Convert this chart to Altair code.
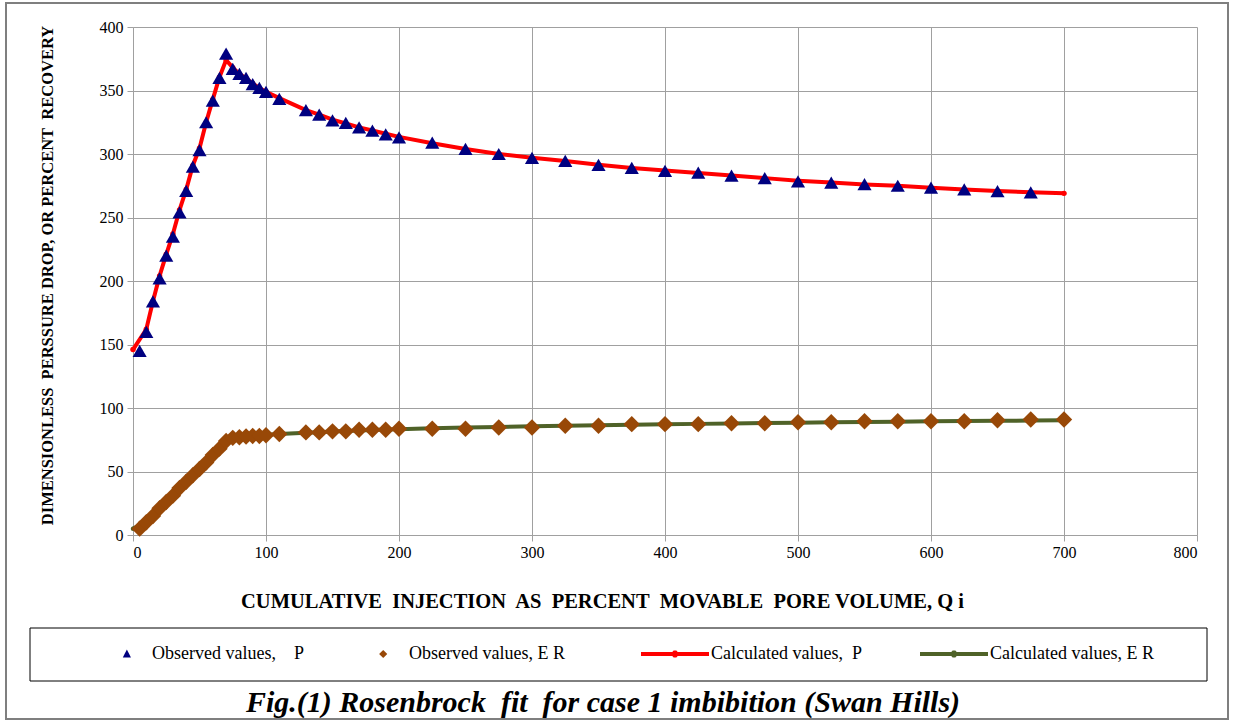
import altair as alt
import pandas as pd

# ---------------- data ----------------
obs_p_x = [5, 10, 15, 20, 25, 30, 35, 40, 45, 50, 55, 60, 65, 70, 75, 80, 85, 90, 95, 100,
           110, 130, 140, 150, 160, 170, 180, 190, 200,
           225, 250, 275, 300, 325, 350, 375, 400, 425, 450, 475, 500, 525, 550, 575, 600, 625, 650, 675]
obs_p_y = [145, 160, 184, 202, 220, 235, 254, 271, 290, 303,
           325, 342, 360, 379, 367, 363, 360, 355, 352, 349,
           343.5, 334.5, 331, 326.5, 324.5, 321, 318.5, 315.5, 313,
           309, 304, 300, 297, 294.5, 291.5, 289, 286.7, 285.3, 283, 281, 278.5, 277.5, 276.3, 275,
           273.6, 272.2, 270.8, 269.7]

obs_er_x = [5, 10, 15, 20, 25, 30, 35, 40, 45, 50, 55, 60, 65, 70, 75, 80, 85, 90, 95, 100,
            110, 130, 140, 150, 160, 170, 180, 190, 200,
            225, 250, 275, 300, 325, 350, 375, 400, 425, 450, 475, 500, 525, 550, 575, 600, 625, 650, 675, 700]
obs_er_y = [5, 10, 15, 21, 26, 31, 37, 42, 47, 52, 57, 63, 68, 74, 76.5, 77, 77.5, 78, 78, 78.5,
            79.5, 80.8, 80.8, 81.6, 81.6, 82.9, 82.9, 82.9, 83.7,
            83.7, 83.7, 84.7, 84.7, 86, 86, 87.3, 87.3, 87.3, 88, 88, 88.8, 88.8, 89.6, 89.6, 89.6, 89.6,
            90.3, 91, 91]

calc_x = [0, 10, 15, 20, 25, 30, 35, 40, 45, 50, 55, 60, 65, 70, 75, 80, 85, 90, 95, 100,
          110, 130, 140, 150, 160, 170, 180, 190, 200,
          225, 250, 275, 300, 325, 350, 375, 400, 425, 450, 475, 500, 525, 550, 575, 600, 625, 650, 675, 700]
calc_p_y = [146, 162, 184, 204, 221, 237, 256, 272, 291, 304.5,
            325, 343, 360.5, 374, 368, 363, 359.5, 355.5, 352, 349,
            344, 334.5, 331, 327, 324, 321, 318.5, 316, 313.5,
            308.5, 304, 300, 297, 294.5, 291.5, 289, 287, 285, 283, 281, 279, 277.5, 276, 275, 273.5,
            272, 270.8, 269.8, 269]
calc_er_y = [5, 10, 15.5, 21, 26, 31.5, 37, 42, 47, 52.5,
             58, 63.5, 69, 76, 77, 77.5, 78, 78.3, 78.6, 79,
             79.6, 80.5, 81, 81.4, 81.8, 82.2, 82.6, 83, 83.3,
             84, 84.6, 85.1, 85.6, 86, 86.4, 86.8, 87.2, 87.5, 87.8, 88.1, 88.4, 88.7, 89, 89.2, 89.5,
             89.7, 89.9, 90.1, 90.3]

NB = "\u00a0"
ZW = "\u200b"
series_names = ["Observed values," + NB * 4 + "P",
                "Observed values, E R" + NB * 9 + ZW,
                "Calculated values," + NB * 2 + "P" + NB * 5 + ZW,
                "Calculated values, E R"]
series_colors = ["#000080", "#984807", "#FF0000", "#4F6228"]

x_ticks = [0, 100, 200, 300, 400, 500, 600, 700, 800]
y_ticks = [0, 50, 100, 150, 200, 250, 300, 350, 400]

x_title = "CUMULATIVE" + NB + " INJECTION" + NB + " AS" + NB + " PERCENT" + NB + " MOVABLE" + NB + " PORE VOLUME, Q i"
y_title = "DIMENSIONLESS" + NB + " PERSSURE DROP, OR PERCENT" + NB + " RECOVERY"
caption = "Fig.(1) Rosenbrock" + NB + " fit" + NB + " for case 1 imbibition (Swan Hills)"

SERIF = "Times New Roman, Liberation Serif, serif"

# ---------------- chart ----------------
W, H = 1064, 508

x_scale = alt.Scale(domain=[0, 800], nice=False, zero=False)
y_scale = alt.Scale(domain=[0, 400], nice=False)


def X():
    return alt.X("x:Q", scale=x_scale,
                 axis=alt.Axis(values=x_ticks, title=x_title, titleX=469, titleY=66,
                               titleAlign="center", titleBaseline="middle",
                               titleFontSize=20.5, labelPadding=3))


def Y():
    return alt.Y("y:Q", scale=y_scale,
                 axis=alt.Axis(values=y_ticks, title=y_title, titleX=-86, titleY=248,
                               titleAlign="center", titleBaseline="middle", titleAngle=270,
                               titleFontSize=16.5, labelPadding=4))


df_obs_p = pd.DataFrame({"x": obs_p_x, "y": obs_p_y})
df_obs_er = pd.DataFrame({"x": obs_er_x, "y": obs_er_y})
df_calc_p = pd.DataFrame({"x": calc_x, "y": calc_p_y})
df_calc_er = pd.DataFrame({"x": calc_x, "y": calc_er_y})

calc_p = alt.Chart(df_calc_p).mark_line(
    color=series_colors[2], strokeWidth=4,
    point=alt.OverlayMarkDef(color=series_colors[2], filled=True, size=30, opacity=1)
).encode(x=X(), y=Y())

calc_er = alt.Chart(df_calc_er).mark_line(
    color=series_colors[3], strokeWidth=4,
    point=alt.OverlayMarkDef(color=series_colors[3], filled=True, size=20, opacity=1)
).encode(x=X(), y=Y())

obs_p = alt.Chart(df_obs_p).mark_point(
    shape="triangle-up", filled=True, color=series_colors[0], size=200, opacity=1
).encode(x=X(), y=Y())

obs_er = alt.Chart(df_obs_er).mark_point(
    shape="diamond", filled=True, color=series_colors[1], size=270, opacity=1
).encode(x=X(), y=Y())

# legend (driven by scales of an empty layer)
tri_path = "M0.32,-0.13L0.44,0.1L0.2,0.1Z"
dia_path = "M0.3,-0.12L0.42,0L0.3,0.12L0.18,0Z"
line_path = ("M-1,-0.06L1,-0.06L1,0.06L-1,0.06Z "
             "M-0.1,-0.04L-0.04,-0.1L0.04,-0.1L0.1,-0.04L0.1,0.04L0.04,0.1L-0.04,0.1L-0.1,0.04Z")
legend_shapes = [tri_path, dia_path, line_path, line_path]

leg = alt.Legend(orient="none", legendX=-51, legendY=593, direction="horizontal", columns=4,
                 title=None, symbolSize=4624, symbolStrokeWidth=0, labelFont=SERIF,
                 labelFontSize=18, labelColor="black", labelOffset=2, columnPadding=35,
                 labelLimit=500)

df_leg = pd.DataFrame({"series": series_names, "x": [0] * 4, "y": [0] * 4})
legend_layer = alt.Chart(df_leg).transform_filter("false").mark_point(
    filled=True, opacity=1
).encode(
    x=X(), y=Y(),
    color=alt.Color("series:N", scale=alt.Scale(domain=series_names, range=series_colors), legend=leg),
    shape=alt.Shape("series:N", scale=alt.Scale(domain=series_names, range=legend_shapes), legend=leg),
)

one = pd.DataFrame({"a": [0]})
outer_frame = alt.Chart(one).mark_rect(fillOpacity=0, stroke="#7f7f7f", strokeWidth=2).encode(
    x=alt.value(-127), x2=alt.value(1095), y=alt.value(-24), y2=alt.value(692))
legend_box = alt.Chart(one).mark_rect(fillOpacity=0, stroke="black", strokeWidth=1).encode(
    x=alt.value(-103), x2=alt.value(1074), y=alt.value(601), y2=alt.value(654))
caption_text = alt.Chart(one).mark_text(
    font=SERIF, fontSize=30, fontStyle="italic", fontWeight="bold", color="black",
    align="center", baseline="middle"
).encode(x=alt.value(470), y=alt.value(676), text=alt.value(caption))

chart = alt.layer(
    outer_frame, legend_box, calc_p, calc_er, obs_p, obs_er, legend_layer, caption_text
).properties(
    width=W, height=H,
    autosize=alt.AutoSizeParams(type="none"),
    padding={"left": 133, "top": 27, "right": 37, "bottom": 187},
    background="white",
).configure_view(stroke=None).configure_axis(
    gridColor="#a0a0a0", gridWidth=1, domainColor="#a0a0a0", tickColor="#a0a0a0",
    tickSize=6, labelFont=SERIF, labelFontSize=16, labelColor="black",
    titleFont=SERIF, titleFontWeight="bold", titleColor="black",
)

chart.save("out.html", embed_options={"renderer": "svg", "actions": False})
